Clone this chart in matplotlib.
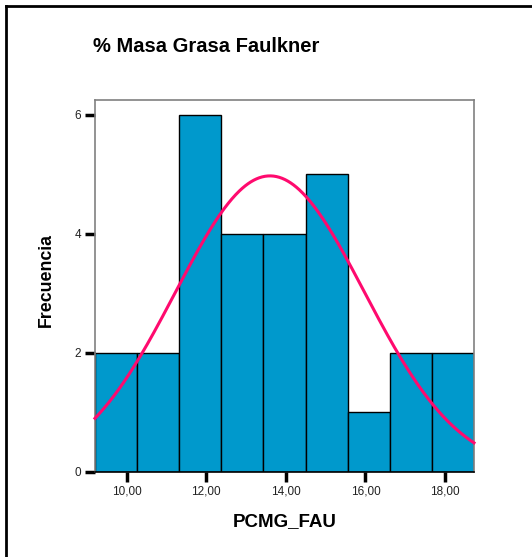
import numpy as np
import matplotlib
matplotlib.use("Agg")
import matplotlib.pyplot as plt
from matplotlib.lines import Line2D

plt.rcParams['font.family'] = ['Liberation Sans', 'DejaVu Sans']

# Histogram of % body fat (Faulkner)
bin_edges = [9.204, 10.262, 11.320, 12.378, 13.436, 14.494, 15.552, 16.610, 17.668, 18.726]
counts = [2, 2, 6, 4, 4, 5, 1, 2, 2]
xticks = [10, 12, 14, 16, 18]
xtick_labels = ["10,00", "12,00", "14,00", "16,00", "18,00"]
yticks = [0, 2, 4, 6]
yticks_labels = ["0", "2", "4", "6"]

# Normal curve parameters
mean = 13.60
std = 2.376
n = sum(counts)

fig = plt.figure(figsize=(5.32, 5.57), dpi=100)
ax = fig.add_axes([95 / 532, (557 - 471.7) / 557, 379 / 532, 371.7 / 557])

edges = np.array(bin_edges)
widths = np.diff(edges)
ax.bar(edges[:-1], counts, width=widths, align='edge', color='#0099CC',
       edgecolor='black', linewidth=1.0, zorder=2)

bw = widths.mean()
xs = np.linspace(edges[0], edges[-1], 400)
ys = n * bw * np.exp(-0.5 * ((xs - mean) / std) ** 2) / (std * np.sqrt(2 * np.pi))
ax.plot(xs, ys, color='#FF0A6E', linewidth=2.2, zorder=3, clip_on=False)

ax.set_xlim(edges[0], edges[-1])
ax.set_ylim(0, 6.25)
ax.set_xticks(xticks)
ax.set_xticklabels(xtick_labels, fontsize=8.5, color='#222222')
ax.set_yticks(yticks)
ax.set_yticklabels(yticks_labels, fontsize=8.5, color='#222222')
ax.tick_params(axis='both', direction='out', length=7, width=2.5, color='black', pad=3)

for side in ['left', 'top', 'right']:
    ax.spines[side].set_color('#808080')
    ax.spines[side].set_linewidth(1.2)
ax.spines['bottom'].set_color('black')
ax.spines['bottom'].set_linewidth(1.2)

ax.set_xlabel("PCMG_FAU", fontsize=13.5, fontweight='bold', labelpad=11)
ax.set_ylabel("Frecuencia", fontsize=12.8, fontweight='bold')
ax.yaxis.set_label_coords(-0.129, 0.516)
ax.yaxis.label.set_va('center')

fig.text(93 / 532, 1 - 47 / 557, "% Masa Grasa Faulkner", fontsize=14.5,
         fontweight='bold', ha='left', va='center')

# Outer frame (left and top edges)
fig.add_artist(Line2D([6 / 532, 6 / 532], [0, 1 - 6 / 557], transform=fig.transFigure,
                      color='black', linewidth=2))
fig.add_artist(Line2D([6 / 532, 1], [1 - 6 / 557, 1 - 6 / 557], transform=fig.transFigure,
                      color='black', linewidth=2))

fig.savefig("out.png", dpi=100)
